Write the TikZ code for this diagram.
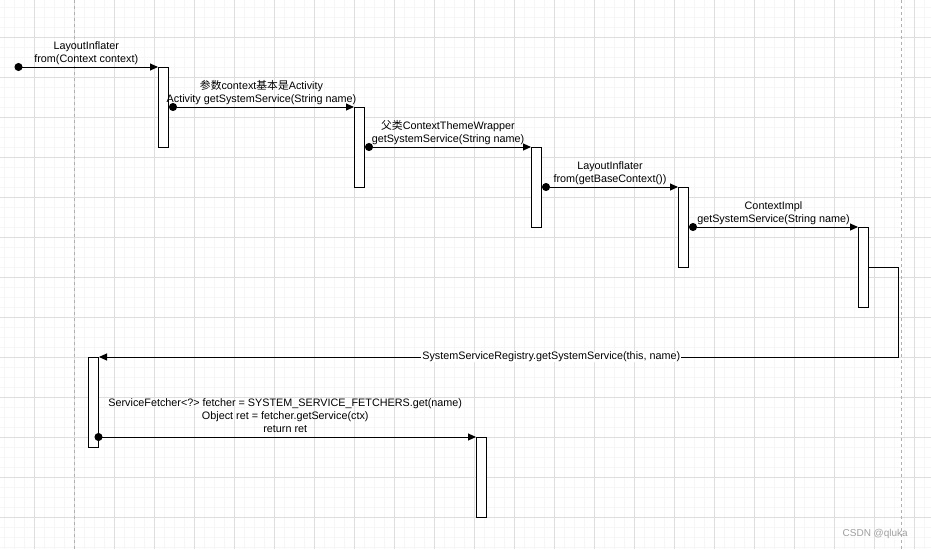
\documentclass[tikz,border=0pt]{standalone}
\usepackage{fontspec}
\setmainfont{Liberation Sans}
\newfontfamily\cjk{Noto Sans CJK SC}
\usetikzlibrary{arrows.meta}
\definecolor{minorgrid}{HTML}{F6F6F6}
\definecolor{majorgrid}{HTML}{DEDEDE}
\definecolor{pagedash}{HTML}{B0B0B0}
\definecolor{wmcol}{HTML}{A0A0A0}
\begin{document}
\begin{tikzpicture}[x=1pt,y=-1pt,
  actbox/.style={draw=black, fill=white, line width=1pt, minimum width=10pt, minimum height=80pt, inner sep=0pt, anchor=north west},
  msg/.style={line width=1pt, {Circle[length=8pt]}-{Triangle[length=8pt,width=7pt]}},
  retmsg/.style={line width=1pt, -{Triangle[length=8pt,width=7pt]}},
  lbl/.style={font=\fontsize{10.8pt}{13pt}\selectfont, align=center, inner sep=0pt, text=black},
]
\useasboundingbox (0,0) rectangle (931,549);
\fill[white] (0,0) rectangle (931,549);
% grid
\foreach \x in {4.5,14.5,...,924.5} \draw[minorgrid, line width=1pt] (\x,0) -- (\x,549);
\foreach \y in {7.5,17.5,...,547.5} \draw[minorgrid, line width=1pt] (0,\y) -- (931,\y);
\foreach \x in {34.5,74.5,...,914.5} \draw[majorgrid, line width=1pt] (\x,0) -- (\x,549);
\foreach \y in {37.5,77.5,...,517.5} \draw[majorgrid, line width=1pt] (0,\y) -- (931,\y);
\draw[pagedash, line width=1pt, dash pattern=on 3pt off 3pt] (74.5,0) -- (74.5,549);
\draw[pagedash, line width=1pt, dash pattern=on 3pt off 3pt] (901.5,0) -- (901.5,549);

% activation boxes
\node[actbox] (b1) at (158,67) {};
\node[actbox] (b2) at (354,107) {};
\node[actbox] (b3) at (531,147) {};
\node[actbox] (b4) at (678,187) {};
\node[actbox] (b5) at (858,227) {};
\node[actbox, minimum height=90pt] (b6) at (88,357) {};
\node[actbox] (b7) at (476,437) {};

% messages
\coordinate (s0) at (14.5,67);
\draw[msg] (s0) -- (b1.north west)
  node[lbl, midway, above=2pt] (l1) {LayoutInflater\\from(Context context)};
\draw[msg] (b1.east |- b2.north) -- (b2.north west)
  node[lbl, midway, above=2pt] (l2) {{\cjk 参数}context{\cjk 基本是}Activity\\Activity getSystemService(String name)};
\draw[msg] (b2.east |- b3.north) -- (b3.north west)
  node[lbl, midway, above=2pt] (l3) {{\cjk 父类}ContextThemeWrapper\\getSystemService(String name)};
\draw[msg] (b3.east |- b4.north) -- (b4.north west)
  node[lbl, midway, above=2pt] (l4) {LayoutInflater\\from(getBaseContext())};
\draw[msg] (b4.east |- b5.north) -- (b5.north west)
  node[lbl, midway, above=2pt] (l5) {ContextImpl\\getSystemService(String name)};

\coordinate (c1) at (898,357);
\draw[retmsg] (b5.east) -| (c1) -- (b6.north east)
  node[lbl, pos=0.434, fill=white, inner xsep=1pt] (l6) {SystemServiceRegistry.getSystemService(this, name)};

\draw[msg] ([xshift=-4.5pt]b6.east |- b7.north) -- (b7.north west)
  node[lbl, midway, above=4pt] (l7) {ServiceFetcher<?> fetcher = SYSTEM\_SERVICE\_FETCHERS.get(name)\\Object ret = fetcher.getService(ctx)\\return ret};

% watermark
\node[font=\fontsize{10pt}{12pt}\selectfont, text=wmcol, anchor=east, inner sep=0pt] (wm) at (908,534) {CSDN @qluka};
\end{tikzpicture}
\end{document}
